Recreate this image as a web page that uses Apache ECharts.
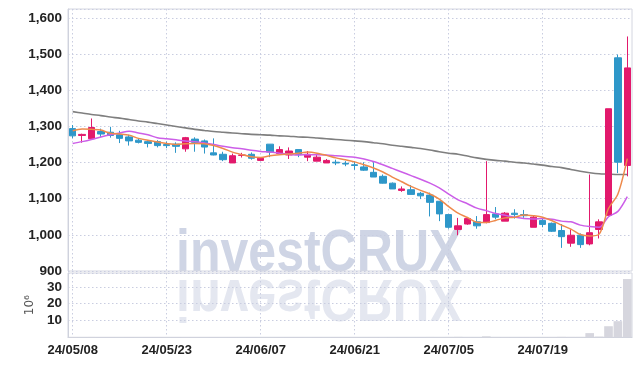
<!DOCTYPE html>
<html><head><meta charset="utf-8">
<script src="https://cdn.jsdelivr.net/npm/echarts@6/dist/echarts.min.js"></script>
<style>html,body{margin:0;padding:0;background:#fff}#c{width:642px;height:366px}</style>
</head><body><div id="c"></div>
<script>
const dates = ['24/05/08','24/05/09','24/05/10','24/05/13','24/05/14','24/05/16','24/05/17','24/05/20','24/05/21','24/05/22',
 '24/05/23','24/05/24','24/05/27','24/05/28','24/05/29','24/05/30','24/05/31','24/06/03','24/06/04','24/06/05',
 '24/06/07','24/06/10','24/06/11','24/06/12','24/06/13','24/06/14','24/06/17','24/06/18','24/06/19','24/06/20',
 '24/06/21','24/06/24','24/06/25','24/06/26','24/06/27','24/06/28','24/07/01','24/07/02','24/07/03','24/07/04',
 '24/07/05','24/07/08','24/07/09','24/07/10','24/07/11','24/07/12','24/07/15','24/07/16','24/07/17','24/07/18',
 '24/07/19','24/07/22','24/07/23','24/07/24','24/07/25','24/07/26','24/07/29','24/07/30','24/07/31','24/08/01'];
const opens  = [1294,1275,1266,1286,1284,1277,1271,1262,1258,1258,1250,1251,1238,1265,1260,1227,1223,1199,1220,1223,
 1206,1251,1225,1221,1236,1215,1204,1199,1201,1198,1194,1188,1173,1162,1143,1123,1125,1115,1110,1093,
 1056,1015,1030,1036,1034,1058,1038,1060,1056,1021,1040,1032,1012,977,999,975,1015,1054,1490,1192];
const closes = [1274,1278,1297,1279,1275,1267,1260,1256,1253,1247,1247,1245,1269,1256,1243,1221,1208,1219,1221,1212,
 1212,1229,1236,1232,1223,1223,1215,1206,1199,1196,1192,1179,1160,1143,1127,1127,1112,1108,1090,1058,
 1021,1025,1045,1025,1056,1049,1060,1056,1053,1049,1029,1010,995,999,973,1006,1036,1349,1201,1462];
const lows   = [1267,1255,1266,1271,1269,1254,1247,1253,1242,1242,1240,1227,1230,1230,1225,1220,1204,1199,1214,1208,
 1206,1215,1223,1210,1215,1204,1204,1199,1193,1190,1180,1177,1160,1142,1127,1119,1112,1099,1051,1038,
 1017,999,1028,1017,1032,1043,1038,1045,1047,1021,1021,1008,964,967,964,971,990,1054,1171,1162];
const highs  = [1304,1280,1322,1294,1299,1288,1277,1266,1262,1262,1258,1256,1271,1270,1264,1267,1230,1225,1227,1228,
 1213,1251,1245,1242,1236,1232,1221,1210,1208,1204,1203,1201,1201,1167,1145,1134,1138,1119,1117,1093,
 1056,1047,1049,1052,1204,1077,1063,1071,1069,1053,1049,1034,1030,1015,1004,1167,1043,1349,1499,1549];
const volumes = [0.15,0.12,0.2,0.1,0.09,0.11,0.1,0.08,0.09,0.1,0.08,0.1,0.15,0.1,0.12,0.1,0.12,0.1,0.08,0.09,
 0.08,0.12,0.1,0.1,0.09,0.08,0.09,0.08,0.1,0.09,0.1,0.12,0.15,0.14,0.12,0.1,0.12,0.1,0.2,0.18,
 0.2,0.25,0.15,0.12,0.6,0.2,0.15,0.12,0.1,0.15,0.12,0.15,0.25,0.2,0.2,2.5,0.4,6.6,9.6,34.7];
const ma5  = [1288,1293,1292,1290,1281,1279,1276,1267,1262,1257,1253,1250,1252,1253,1252,1247,1239,1229,1222,1216,
 1214,1219,1222,1224,1226,1229,1226,1220,1213,1208,1202,1194,1185,1174,1160,1147,1134,1123,1113,1099,
 1078,1060,1048,1035,1034,1040,1047,1049,1055,1053,1049,1039,1027,1016,1001,997,1002,1073,1113,1211];
const ma10 = [1253,1258,1264,1271,1277,1282,1287,1282,1277,1269,1266,1263,1260,1258,1254,1250,1245,1241,1238,1234,
 1231,1229,1226,1223,1221,1222,1222,1221,1219,1217,1215,1210,1203,1194,1184,1174,1164,1154,1143,1130,
 1113,1097,1086,1074,1067,1059,1054,1049,1045,1044,1045,1043,1038,1036,1027,1023,1021,1050,1065,1106];
const ma60 = [1341,1337,1333,1330,1326,1323,1319,1315,1312,1308,1304,1300,1296,1292,1289,1286,1284,1282,1280,1278,
 1277,1276,1274,1273,1271,1270,1268,1266,1264,1262,1260,1258,1255,1252,1248,1245,1242,1239,1235,1230,
 1226,1223,1218,1213,1209,1206,1204,1201,1199,1196,1193,1189,1186,1181,1176,1172,1169,1168,1167,1167];
const priceMin = 900, priceMax = 1625, priceStep = 100;
const volMax = 38.3, volStep = 10;

const UP = '#e2196c', DOWN = '#2e97c9';
const LBL = "'Liberation Sans',Arial,sans-serif";
const WM_FONT = "bold 60px 'Liberation Sans',Arial,sans-serif";
const gridLine = {show:true, lineStyle:{color:'#c9cde0', type:[1.5,2.5], width:1}};
const chart = echarts.init(document.getElementById('c'));
chart.setOption({
  animation:false,
  backgroundColor:'#fff',
  graphic:[
    {type:'text', x:176, y:284.5, z:-10, silent:true, scaleX:0.834,
     style:{text:'investCRUX', font:WM_FONT, fill:'#cfd5e5', verticalAlign:'bottom'}},
    {type:'text', x:176, y:284.5, z:-10, silent:true, scaleX:0.834, scaleY:-1, originY:-9,
     style:{text:'investCRUX', font:WM_FONT, fill:'#e4e7f0', verticalAlign:'bottom'}}
  ],
  grid:[
    {left:68, width:564, top:9, height:262, show:true, borderColor:'#d4d6e0', borderWidth:1, backgroundColor:'transparent'},
    {left:68, width:564, top:273, height:64.3, show:true, borderColor:'#d4d6e0', borderWidth:1, backgroundColor:'transparent'}
  ],
  xAxis:[
    {type:'category', gridIndex:0, data:dates, boundaryGap:true,
     axisLine:{show:false}, axisTick:{show:false, alignWithLabel:true, interval:9}, axisLabel:{show:false, interval:9},
     splitLine:Object.assign({interval:9, alignWithLabel:true}, gridLine)},
    {type:'category', gridIndex:1, data:dates, boundaryGap:true,
     axisLine:{show:true, lineStyle:{color:'#cfd2dd'}}, axisTick:{show:false, alignWithLabel:true, interval:9},
     axisLabel:{show:true, interval:9, color:'#222', fontFamily:LBL, fontWeight:'bold', fontSize:13, margin:7},
     splitLine:Object.assign({interval:9, alignWithLabel:true}, gridLine)}
  ],
  yAxis:[
    {type:'value', gridIndex:0, min:priceMin, max:priceMax, interval:priceStep,
     axisLine:{show:true, lineStyle:{color:'#cfd2dd'}}, axisTick:{show:false},
     axisLabel:{color:'#222', fontFamily:LBL, fontWeight:'bold', fontSize:13.5, margin:6, showMaxLabel:false,
       formatter:v=>v.toLocaleString('en-US')},
     splitLine:gridLine},
    {type:'value', gridIndex:1, min:0, max:volMax, interval:volStep,
     name:'10⁶', nameLocation:'middle', nameRotate:90, nameGap:24,
     nameTextStyle:{color:'#555', fontFamily:'DejaVu Sans', fontSize:12},
     axisLine:{show:true, lineStyle:{color:'#cfd2dd'}}, axisTick:{show:false},
     axisLabel:{color:'#222', fontFamily:LBL, fontWeight:'bold', fontSize:13.5, margin:6, showMaxLabel:false, showMinLabel:false},
     splitLine:gridLine}
  ],
  series:[
    {type:'line', name:'MA60', xAxisIndex:0, yAxisIndex:0, data:ma60, showSymbol:false, smooth:0.3,
     lineStyle:{color:'#7f7f7f', width:1.6}, z:3},
    {type:'candlestick', xAxisIndex:0, yAxisIndex:0, barWidth:7,
     data:dates.map((d,i)=>[opens[i],closes[i],lows[i],highs[i]]),
     itemStyle:{color:UP, color0:DOWN, borderColor:UP, borderColor0:DOWN, borderWidth:1}, z:4},
    {type:'line', name:'MA10', xAxisIndex:0, yAxisIndex:0, data:ma10, showSymbol:false, smooth:0.3,
     lineStyle:{color:'#cc5ee8', width:1.5}, z:5},
    {type:'line', name:'MA5', xAxisIndex:0, yAxisIndex:0, data:ma5, showSymbol:false, smooth:0.3,
     lineStyle:{color:'#ee8a4c', width:1.5}, z:6},
    {type:'bar', xAxisIndex:1, yAxisIndex:1, data:volumes, barCategoryGap:'8%',
     itemStyle:{color:'#d6d6de'}}
  ]
});
</script></body></html>
